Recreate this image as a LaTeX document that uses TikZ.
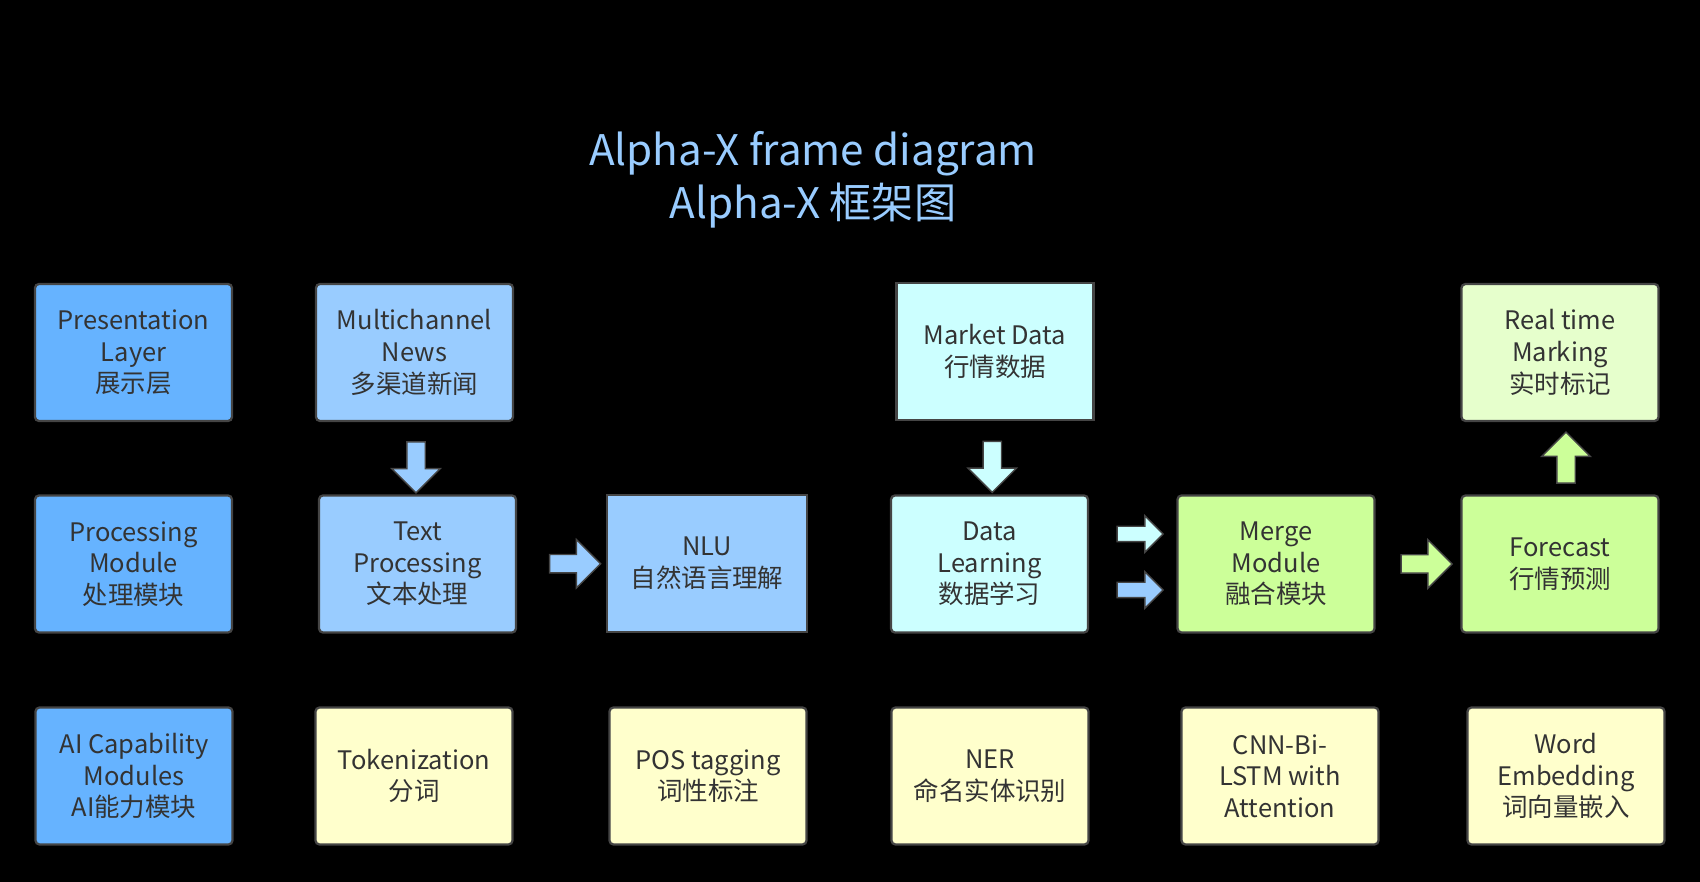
\documentclass[tikz,border=0pt]{standalone}
\usepackage{fontspec}
\setmainfont{Noto Sans CJK SC}
\usetikzlibrary{shapes.arrows, calc}
\definecolor{LayerBlue}{HTML}{66B3FF}
\definecolor{NewsBlue}{HTML}{99CCFF}
\definecolor{DataCyan}{HTML}{CCFFFF}
\definecolor{MergeGreen}{HTML}{CCFF99}
\definecolor{MarkGreen}{HTML}{E6FFCC}
\definecolor{AlgoYellow}{HTML}{FFFFCC}
\definecolor{TextGray}{HTML}{333333}
\definecolor{EdgeGray}{HTML}{454545}

\tikzset{
    modbox/.style={draw=EdgeGray, line width=1.3pt, rounded corners=0.08cm, minimum width=3.94cm, minimum height=2.74cm,
        align=center, text=TextGray, font=\fontsize{14.5pt}{18pt}\selectfont, inner sep=0pt},
    sharpbox/.style={modbox, sharp corners},
    blockarrow/.style={single arrow, draw=EdgeGray, line width=0.8pt, minimum height=1.02cm, minimum width=0.94cm,
        single arrow head extend=0.3cm, single arrow head indent=0cm, inner xsep=0pt, inner ysep=0.17cm},
    smallarrow/.style={blockarrow, minimum height=0.92cm, minimum width=0.7cm, single arrow head extend=0.21cm, inner ysep=0.14cm},
    titletext/.style={text=NewsBlue, font=\fontsize{24pt}{28pt}\selectfont}
}

\begin{document}
\begin{tikzpicture}
    \fill[black] (0,0) rectangle (34,17.64);
    \useasboundingbox (0,0) rectangle (34,17.64);

    % --- TITLE ---
    \node[titletext] (title) at (16.26, 14.56) {Alpha-X frame diagram};
    \node[titletext] (subtitle) at (16.26, 13.52) {Alpha-X 框架图};

    % --- ROW 1 ---
    \node[modbox, fill=LayerBlue] (pres) at (2.67, 10.59) {Presentation\\Layer\\展示层};
    \node[modbox, fill=NewsBlue] (news) at (8.29, 10.59) {Multichannel\\News\\多渠道新闻};
    \node[sharpbox, fill=DataCyan] (market) at (19.9, 10.61) {Market Data\\行情数据};
    \node[modbox, fill=MarkGreen] (mark) at (31.2, 10.59) {Real time\\Marking\\实时标记};

    % --- ROW 2 ---
    \node[modbox, fill=LayerBlue] (proc) at (2.67, 6.36) {Processing\\Module\\处理模块};
    \node[modbox, fill=NewsBlue] (text) at (8.35, 6.36) {Text\\Processing\\文本处理};
    \node[sharpbox, fill=NewsBlue, minimum width=4cm] (nlu) at (14.14, 6.37) {NLU\\自然语言理解};
    \node[modbox, fill=DataCyan] (learn) at (19.79, 6.36) {Data\\Learning\\数据学习};
    \node[modbox, fill=MergeGreen] (merge) at (25.52, 6.36) {Merge\\Module\\融合模块};
    \node[modbox, fill=MergeGreen] (forecast) at (31.2, 6.36) {Forecast\\行情预测};

    % --- ROW 3 ---
    \node[modbox, fill=LayerBlue] (ai) at (2.68, 2.12) {AI Capability\\Modules\\AI能力模块};
    \node[modbox, fill=AlgoYellow] (token) at (8.28, 2.12) {Tokenization\\分词};
    \node[modbox, fill=AlgoYellow] (pos) at (14.16, 2.12) {POS tagging\\词性标注};
    \node[modbox, fill=AlgoYellow] (ner) at (19.8, 2.12) {NER\\命名实体识别};
    \node[modbox, fill=AlgoYellow] (cnn) at (25.6, 2.12) {CNN-Bi-\\LSTM with\\Attention};
    \node[modbox, fill=AlgoYellow] (word) at (31.32, 2.12) {Word\\Embedding\\词向量嵌入};

    % Block arrows
    \node[blockarrow, fill=NewsBlue, rotate=-90] (a1) at ($(news.south)!0.5!(text.north)+(0,-0.09)$) {};
    \node[blockarrow, fill=NewsBlue] (a2) at ($(text.east)!0.5!(nlu.west)+(0.18,0)$) {};
    \node[blockarrow, fill=DataCyan, rotate=-90] (a3) at ($(market.south)!0.5!(learn.north)+(0,-0.09)$) {};
    \node[smallarrow, fill=DataCyan] (a4) at ($(learn.east)!0.5!(merge.west)+(0.07,0.6)$) {};
    \node[smallarrow, fill=NewsBlue] (a5) at ($(learn.east)!0.5!(merge.west)+(0.07,-0.52)$) {};
    \node[blockarrow, fill=MergeGreen] (a6) at ($(merge.east)!0.5!(forecast.west)+(0.08,0)$) {};
    \node[blockarrow, fill=MergeGreen, rotate=90] (a7) at ($(forecast.north)!0.5!(mark.south)+(0.12,-0.08)$) {};
\end{tikzpicture}
\end{document}
